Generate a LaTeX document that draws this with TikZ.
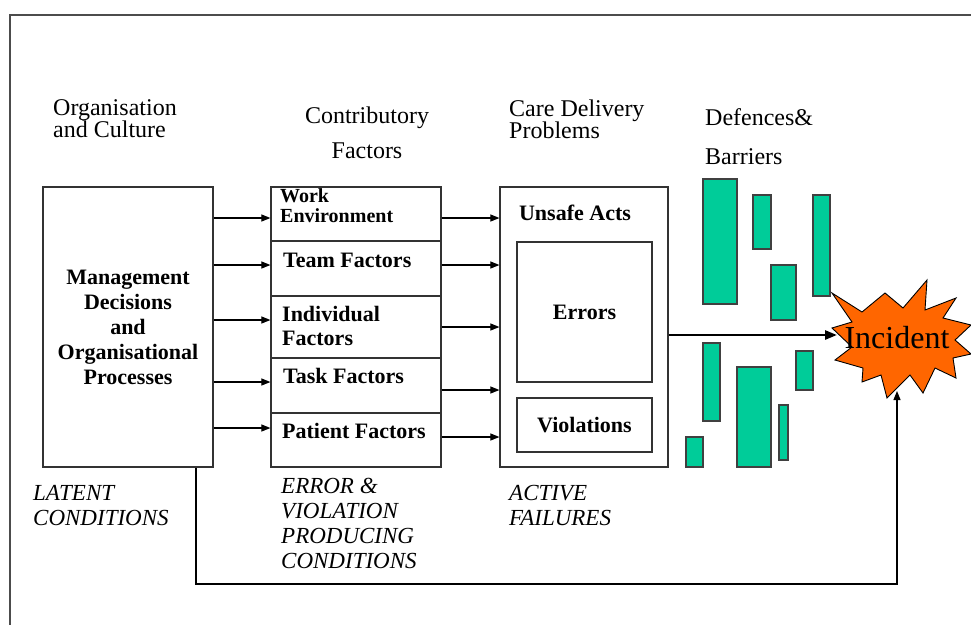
\documentclass[tikz,border=0pt]{standalone}
\usepackage{fontspec}
\setmainfont{Liberation Serif}
\usetikzlibrary{arrows.meta,calc}
\definecolor{barcol}{RGB}{0,204,153}
\definecolor{burst}{RGB}{255,102,0}
\begin{document}
\begin{tikzpicture}[x=1pt,y=-1pt,
  box/.style={draw=black!80, line width=1.2pt, inner sep=0pt},
  boldtxt/.style={font=\fontsize{22}{25}\selectfont\bfseries, inner sep=0pt},
  headtxt/.style={font=\fontsize{24}{22}\selectfont, inner sep=0pt, align=left, anchor=west},
  condtxt/.style={font=\fontsize{23}{25}\selectfont\itshape, inner sep=0pt, align=left, anchor=west},
  arr/.style={-{Triangle[length=9pt,width=7pt]}, line width=1.1pt},
  bigarr/.style={-{Triangle[length=12pt,width=9pt]}, line width=2.6pt},
  bar/.style={draw=black!75, line width=1.2pt, fill=barcol}]
\useasboundingbox (0,0) rectangle (971,625);
\draw[black!70, line width=1.2pt] (971,15) -- (10,15) -- (10,625);
\node[headtxt] (org) at (53,119) {Organisation\\and Culture};
\node[headtxt, align=center, anchor=center, font=\fontsize{24}{35}\selectfont] (contrib) at (367,132.5) {Contributory\\Factors};
\node[headtxt] (cdp) at (509,119) {Care Delivery\\Problems};
\node[headtxt, font=\fontsize{24}{39}\selectfont] (def) at (705,136.5) {Defences\&\\Barriers};
\node[box, boldtxt, align=center, minimum width=170pt, minimum height=280pt] (mgmt) at (128,327)
     {Management\\Decisions\\and\\Organisational\\Processes};
\node[box, minimum width=170pt, minimum height=54pt] (work) at (356,214) {};
\node[box, minimum width=170pt, minimum height=55pt] (team) at (356,268.5) {};
\node[box, minimum width=170pt, minimum height=62pt] (indiv) at (356,327) {};
\node[box, minimum width=170pt, minimum height=55pt] (task) at (356,385.5) {};
\node[box, minimum width=170pt, minimum height=54pt] (patient) at (356,440) {};
\node[boldtxt, anchor=west, align=left, font=\fontsize{20}{20}\selectfont\bfseries] (worktxt) at (280,206) {Work\\Environment};
\node[boldtxt, anchor=west] (teamtxt) at (283,260) {Team Factors};
\node[boldtxt, anchor=west, align=left, font=\fontsize{22}{24}\selectfont\bfseries] (indivtxt) at (282,326) {Individual\\Factors};
\node[boldtxt, anchor=west] (tasktxt) at (283,376) {Task Factors};
\node[boldtxt, anchor=west] (patienttxt) at (282,431) {Patient Factors};
\node[box, minimum width=168pt, minimum height=280pt] (care) at (584,327) {};
\node[boldtxt] (unsafe) at (575,213) {Unsafe Acts};
\node[box, boldtxt, minimum width=135pt, minimum height=140pt] (errors) at (584.5,312) {Errors};
\node[box, boldtxt, minimum width=135pt, minimum height=54pt] (viol) at (584.5,425) {Violations};
\foreach \r/\a/\b in {work/4/4, team/-3.5/-3.5, indiv/-7/0, task/-3.5/4.5, patient/-12/-3}{
  \path ($(\r.west)+(0,\a)$) coordinate (\r-in);
  \path ($(\r.east)+(0,\b)$) coordinate (\r-out);
  \draw[arr] (\r-in -| mgmt.east) -- (\r-in);
  \draw[arr] (\r-out) -- (\r-out -| care.west);
}
\foreach \xa/\ya/\xb/\yb in {703/179/737/304, 753/195/771/249, 771/265/796/320, 813/195/830/296,
  703/343/720/421, 737/367/771/467, 779/405/788/460, 796/351/813/390, 686/437/703/467}
  \draw[bar] (\xa,\ya) rectangle (\xb,\yb);
\draw[fill=burst, draw=black, line width=0.9pt] (832,293) -- (862,312) -- (885,293) -- (903,308)
  -- (927,280) -- (925,310) -- (956,298) -- (943,318) -- (971,325) -- (955,340) -- (971,354)
  -- (953,358) -- (956,378) -- (935,368) -- (923,393) -- (910,375) -- (887,398) -- (881,375)
  -- (862,382) -- (863,368) -- (835,360) -- (852,347) -- (832,328) -- (852,322) -- cycle;
\node[inner sep=0pt, font=\fontsize{32}{32}\selectfont] (inc) at (897,338) {Incident};
\coordinate (hit) at (837,335);
\draw[bigarr] ([yshift=-8pt]care.east) -- (hit);
\coordinate (fbcorner) at (897,584);
\coordinate (fbtip) at (897,391);
\draw[arr] ([xshift=68pt]mgmt.south) |- (fbcorner) -- (fbtip);
\node[condtxt] (latent) at (33,505.5) {LATENT\\CONDITIONS};
\node[condtxt] (evpc) at (281,523) {ERROR \&\\VIOLATION\\PRODUCING\\CONDITIONS};
\node[condtxt] (active) at (509,505.5) {ACTIVE\\FAILURES};
\end{tikzpicture}
\end{document}
